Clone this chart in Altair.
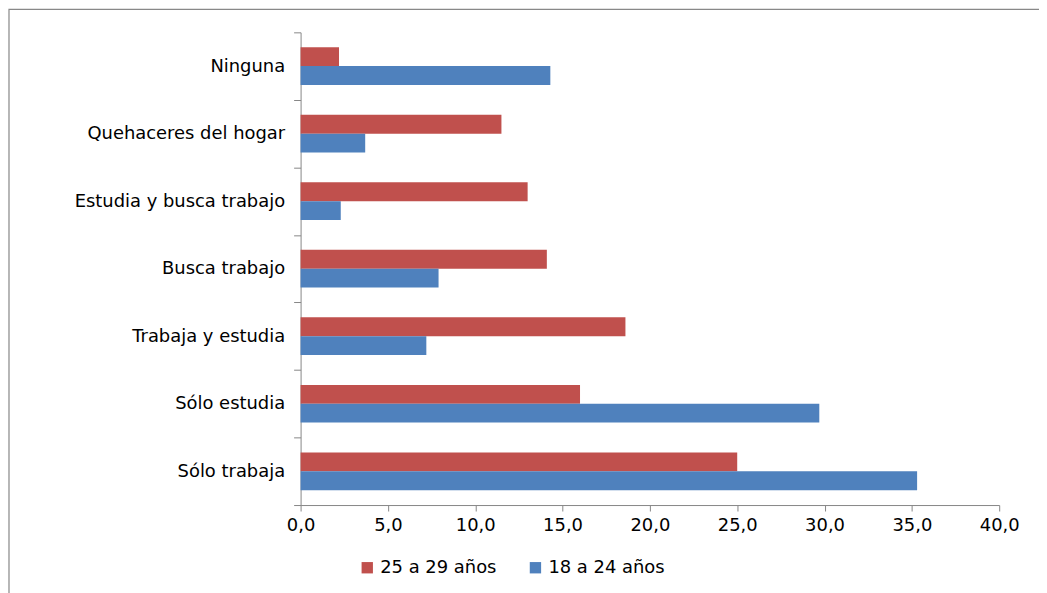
import altair as alt
import pandas as pd

categories = ["Ninguna", "Quehaceres del hogar", "Estudia y busca trabajo",
              "Busca trabajo", "Trabaja y estudia", "Sólo estudia", "Sólo trabaja"]
series = ["25 a 29 años", "18 a 24 años"]
vals_25_29 = [2.2, 11.5, 13.0, 14.1, 18.6, 16.0, 25.0]
vals_18_24 = [14.3, 3.7, 2.3, 7.9, 7.2, 29.7, 35.3]
colors = ["#C0504D", "#4F81BD"]

rows = []
for c, a, b in zip(categories, vals_25_29, vals_18_24):
    rows.append({"cat": c, "serie": series[0], "v": a})
    rows.append({"cat": c, "serie": series[1], "v": b})
df = pd.DataFrame(rows)

FONT = "DejaVu Sans"
FS = 18

bars = alt.Chart(df).mark_bar().encode(
    y=alt.Y("cat:N", sort=categories, title=None,
            scale=alt.Scale(paddingInner=0, paddingOuter=0),
            axis=alt.Axis(tickBand="extent", tickSize=7, labelPadding=9,
                          domainColor="#868686", tickColor="#868686",
                          labelFont=FONT, labelFontSize=FS, labelColor="#000000",
                          labelLimit=400)),
    yOffset=alt.YOffset("serie:N", sort=series,
                        scale=alt.Scale(paddingInner=0, paddingOuter=0.79)),
    x=alt.X("v:Q", title=None,
            scale=alt.Scale(domain=[0, 40], nice=False),
            axis=alt.Axis(values=[0, 5, 10, 15, 20, 25, 30, 35, 40], grid=False,
                          tickSize=6, labelPadding=6,
                          domainColor="#868686", tickColor="#868686",
                          labelFont=FONT, labelFontSize=FS, labelColor="#000000",
                          labelExpr="replace(format(datum.value, '.1f'), '.', ',')",
                          labelFlush=False)),
    color=alt.Color("serie:N", sort=series,
                    scale=alt.Scale(domain=series, range=colors),
                    legend=alt.Legend(title=None, orient="none", direction="horizontal",
                                      legendX=58, legendY=529,
                                      symbolType="square", symbolSize=130,
                                      symbolStrokeWidth=0, columnPadding=30,
                                      labelFont=FONT, labelFontSize=FS,
                                      labelColor="#000000", labelOffset=4)),
)

frame = alt.Chart(pd.DataFrame({"a": [0]})).mark_rect(
    fill=None, stroke="#888888", strokeWidth=1.2
).encode(
    x=alt.value(-293), x2=alt.value(780),
    y=alt.value(-23), y2=alt.value(600),
)

chart = alt.layer(frame, bars).properties(
    width=702, height=475,
    background="white",
    autosize=alt.AutoSizeParams(type="none"),
    padding={"left": 294, "top": 23, "right": 40, "bottom": 100},
).configure_view(strokeWidth=0, stroke=None)

chart.save("out.html", embed_options={"renderer": "svg", "actions": False})
